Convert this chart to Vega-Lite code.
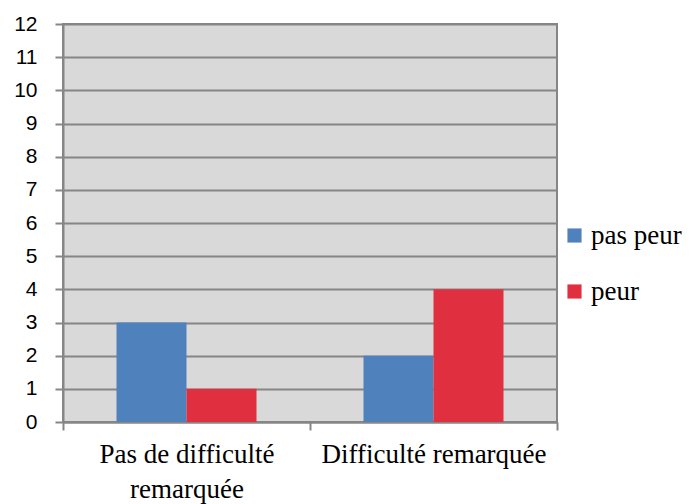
{
  "$schema": "https://vega.github.io/schema/vega-lite/v6.json",
  "width": 494,
  "height": 398,
  "autosize": {"type": "none"},
  "padding": {"left": 63, "top": 24, "right": 133, "bottom": 82},
  "background": "white",
  "data": {
    "values": [
      {"groupe": "Pas de difficulté remarquée", "serie": "pas peur", "valeur": 3},
      {"groupe": "Pas de difficulté remarquée", "serie": "peur", "valeur": 1},
      {"groupe": "Difficulté remarquée", "serie": "pas peur", "valeur": 2},
      {"groupe": "Difficulté remarquée", "serie": "peur", "valeur": 4}
    ]
  },
  "config": {
    "view": {"fill": "#d9d9d9", "stroke": "#868686", "strokeWidth": 2},
    "axis": {"domainColor": "#868686", "domainWidth": 2, "tickColor": "#868686", "tickWidth": 2, "gridColor": "#868686", "gridWidth": 2, "gridOpacity": 1, "labelColor": "#000000", "tickSize": 8}
  },
  "mark": {"type": "bar"},
  "encoding": {
    "x": {
      "field": "groupe",
      "type": "nominal",
      "sort": ["Pas de difficulté remarquée", "Difficulté remarquée"],
      "scale": {"paddingInner": 0, "paddingOuter": 0},
      "axis": {
        "title": null,
        "labelAngle": 0,
        "tickBand": "extent",
        "labelFont": "Liberation Serif",
        "labelFontSize": 27,
        "labelPadding": 11,
        "labelLineHeight": 35,
        "labelBaseline": "top",
        "labelLimit": 400,
        "labelExpr": "datum.value == 'Pas de difficulté remarquée' ? ['Pas de difficulté', 'remarquée'] : datum.value"
      }
    },
    "xOffset": {
      "field": "serie",
      "type": "nominal",
      "sort": ["pas peur", "peur"],
      "scale": {"paddingInner": 0, "paddingOuter": 0.764}
    },
    "y": {
      "field": "valeur",
      "type": "quantitative",
      "scale": {"domain": [0, 12], "nice": false},
      "axis": {
        "title": null,
        "values": [0, 1, 2, 3, 4, 5, 6, 7, 8, 9, 10, 11, 12],
        "labelFont": "Liberation Sans",
        "labelFontSize": 21,
        "labelPadding": 18
      }
    },
    "color": {
      "field": "serie",
      "type": "nominal",
      "sort": ["pas peur", "peur"],
      "scale": {"domain": ["pas peur", "peur"], "range": ["#4f81bd", "#e03040"]},
      "legend": {
        "title": null,
        "orient": "none",
        "legendX": 498,
        "legendY": 198,
        "padding": 0,
        "symbolType": "square",
        "symbolSize": 200,
        "symbolStrokeWidth": 0,
        "symbolOpacity": 1,
        "labelFont": "Liberation Serif",
        "labelFontSize": 27,
        "labelColor": "#000000",
        "labelLimit": 200,
        "rowPadding": 28,
        "labelOffset": 3
      }
    }
  }
}
